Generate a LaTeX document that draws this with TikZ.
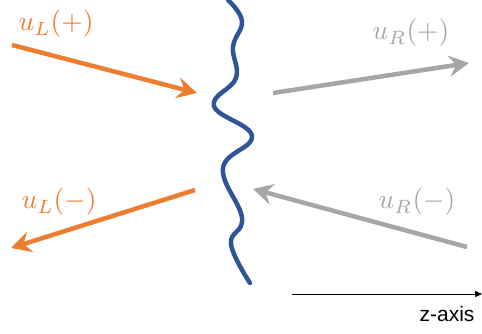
\documentclass[tikz,border=0pt]{standalone}
\usepackage{fontspec}
\newfontfamily\axisfont{Liberation Sans}
\usetikzlibrary{arrows.meta}
\definecolor{orng}{HTML}{ED7D31}
\definecolor{gry}{HTML}{A6A6A6}
\definecolor{blu}{HTML}{2F5597}
\begin{document}
\begin{tikzpicture}[x=1pt,y=-1pt,
  warrow/.style={line width=4.5pt,-{Stealth[length=20pt,width=21pt,inset=7pt]}},
  lbl/.style={scale=2.75,inner sep=0pt},
  wave/.style={blu,line width=4.5pt,line cap=round}]
\useasboundingbox (0,0) rectangle (482,333);
% wave
\draw[wave] plot[smooth,tension=0.7] coordinates {(228,0) (242,21) (233,47) (236,78) (214,106) (252,136) (223,168) (242,218) (231,244) (250,283)};
% coordinates
\coordinate (lp1) at (12,45);  \coordinate (lp2) at (197,93);
\coordinate (rp1) at (273,93); \coordinate (rp2) at (469,63);
\coordinate (lm1) at (195,190); \coordinate (lm2) at (11,248);
\coordinate (rm1) at (467,247); \coordinate (rm2) at (253,189);
\coordinate (z1) at (292,294); \coordinate (z2) at (482,294);
\draw[warrow,orng] (lp1) -- (lp2);
\draw[warrow,gry] (rp1) -- (rp2);
\draw[warrow,orng] (lm1) -- (lm2);
\draw[warrow,gry] (rm1) -- (rm2);
\draw[line width=1pt,-{Triangle[length=7pt,width=6pt]}] (z1) -- (z2);
\node[lbl,text=orng] (tlp) at (56,24) {$u_L(+)$};
\node[lbl,text=gry] (trp) at (411,33) {$u_R(+)$};
\node[lbl,text=orng] (tlm) at (59,202) {$u_L(-)$};
\node[lbl,text=gry] (trm) at (417,202) {$u_R(-)$};
\node[font=\axisfont\fontsize{21}{25}\selectfont] (tz) at (447,314) {z-axis};
\end{tikzpicture}
\end{document}
